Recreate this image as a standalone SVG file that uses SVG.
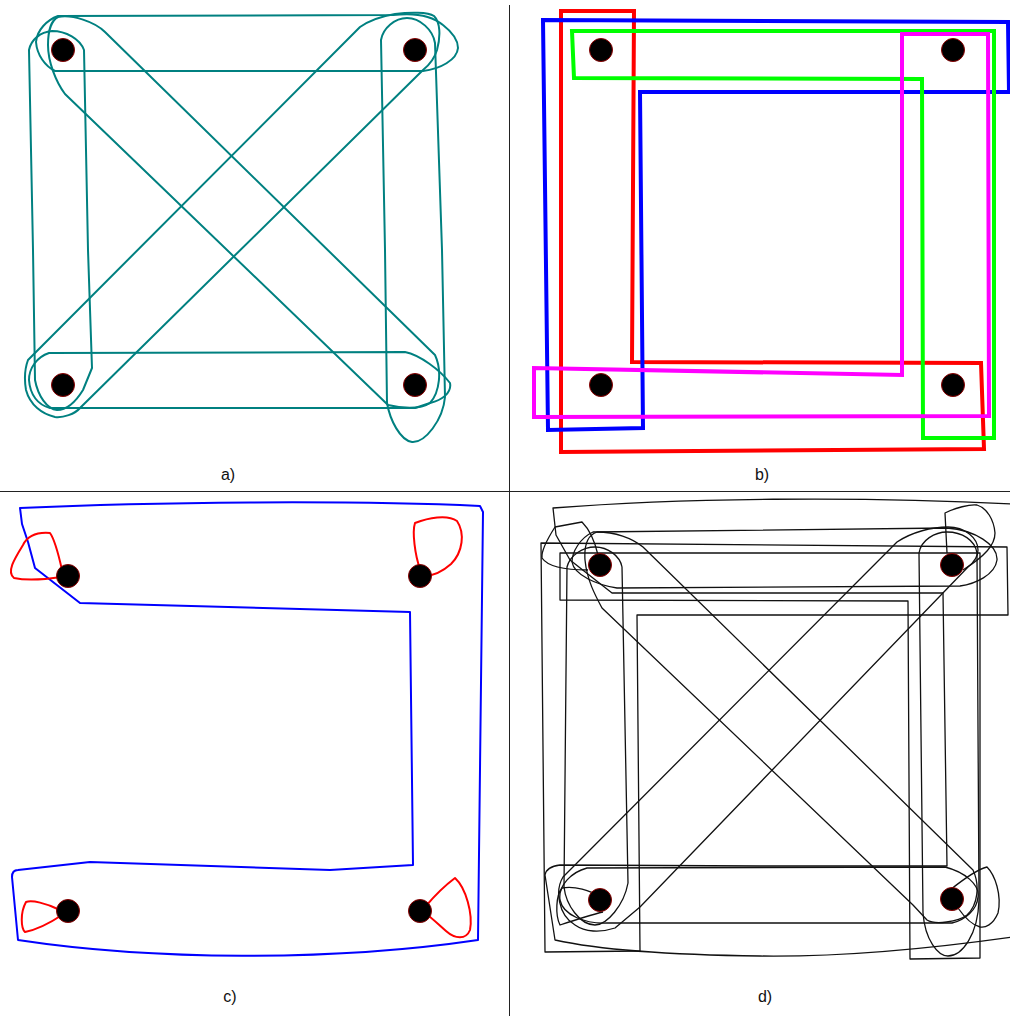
<svg xmlns="http://www.w3.org/2000/svg" width="1010" height="1016" viewBox="0 0 1010 1016">
<style>
.node{fill:#000;stroke:#8b0000;stroke-width:1}
.ea{fill:none;stroke:#008080;stroke-width:2;stroke-linejoin:round}
.eb{fill:none;stroke-width:4}
.ec{fill:none;stroke-width:2;stroke-linejoin:round}
.ed{fill:none;stroke:#111;stroke-width:1.3;stroke-linejoin:round}
.lbl{font-family:"Liberation Sans",Arial,sans-serif;font-size:16px;fill:#111;text-anchor:middle}
.div{stroke:#222;stroke-width:1}
</style>
<rect width="1010" height="1016" fill="#fff"/>
<g id="dividers">
<line class="div" x1="509.5" y1="5" x2="509.5" y2="1016"/>
<line class="div" x1="0" y1="491.5" x2="1010" y2="491.5"/>
</g>
<g id="connectors">
<!-- panel a -->
<path class="ea" d="M58,16 L393,15 C410,13 430,14 443,25 C452,32 458,40 458,48 C457,60 440,69 423,71 L55,71 C45,66 37,55 36,42 C37,30 47,20 58,16 Z"/>
<path class="ea" d="M29,50 C31,40 40,32 52,31 C66,31 80,39 84,50 L88,250 L92,368 L83,390 C75,403 66,410 57,410 C47,409 38,396 35,380 L33,250 Z"/>
<path class="ea" d="M381,40 C383,28 395,18 407,18 C420,18 433,30 435,43 L442,250 L445,397 C443,420 425,443 412,442 C400,440 390,420 387,403 L385,250 Z"/>
<path class="ea" d="M49,353 L405,352 C420,355 440,370 450,383 C452,393 442,400 430,403 L415,408 L50,408 C38,405 30,395 29,380 C29,368 37,357 49,353 Z"/>
<path class="ea" d="M105,32 L435,355 C442,370 440,392 430,403 C420,410 400,408 388,405 L65,94 C56,82 48,62 48,45 C48,30 52,20 58,17 C72,14 95,22 105,32 Z"/>
<path class="ea" d="M360,27 C370,20 383,16 395,14 C410,12 428,12 434,16 C440,22 441,35 437,50 C434,60 428,66 423,70 L80,408 C75,414 63,418 55,417 C42,414 30,405 26,390 C24,378 25,368 28,360 Z"/>
<!-- panel b -->
<path class="eb" stroke="#ff0000" d="M561,11 L634,11 L632,362 L981,363 L984,449 L561,452 Z"/>
<path class="eb" stroke="#0000ff" d="M543,20 L1008,22 L1009,92 L640,92 L643,428 L548,430 Z"/>
<path class="eb" stroke="#00ff00" d="M572,31 L994,31 L994,438 L923,438 L922,79 L574,78 Z"/>
<path class="eb" stroke="#ff00ff" d="M902,34 L988,34 L989,416 L534,417 L534,368 L902,375 Z"/>
<!-- panel c -->
<path class="ec" stroke="#0000ff" d="M20,508 C150,502 350,500 480,506 L483,512 L478,940 C330,962 150,960 18,940 L12,877 C12,872 14,870 18,870 L90,862 L330,870 L413,865 L410,612 L80,603 L35,568 L28,542 L22,524 Z"/>
<path class="ec" stroke="#ff0000" d="M62,570 C58,552 55,540 50,533 C38,532 28,535 23,545 C15,558 6,572 14,578 C28,581 48,579 62,577"/>
<path class="ec" stroke="#ff0000" d="M420,569 C415,555 412,532 415,523 C428,518 447,514 457,521 C465,533 463,552 451,564 C442,572 432,576 424,576"/>
<path class="ec" stroke="#ff0000" d="M60,910 C46,903 32,900 26,902 C20,913 21,928 25,932 C35,930 50,923 62,915"/>
<path class="ec" stroke="#ff0000" d="M426,906 C436,894 447,884 455,878 C466,888 473,914 470,930 C466,940 455,939 446,931 C439,925 432,918 425,913"/>
<!-- panel d -->
<path class="ed" d="M553,508 C680,498 860,496 1012,504 L1012,937 C920,950 840,957 760,956 C680,955 600,950 555,940 L545,875 C546,869 552,866 560,865 L760,866 L947,866 L943,593 L612,593 L570,560 L556,535 Z"/>
<path class="ed" d="M541,543 L1007,547 L1008,615 L637,615 L640,951 L545,952 Z"/>
<path class="ed" d="M560,553 L980,553 L980,958 L910,959 L908,601 L560,600 Z"/>
<path class="ed" d="M593,532 L947,528 C975,530 998,545 997,560 C995,575 975,584 960,586 L617,588 C597,585 574,575 572,562 C572,552 580,538 593,532 Z"/>
<path class="ed" d="M643,547 L973,870 C980,885 978,905 967,915 C958,922 935,925 927,920 L913,905 L602,608 C595,595 587,580 585,560 C584,545 588,535 597,532 C615,532 632,538 643,547 Z"/>
<path class="ed" d="M897,542 C912,532 932,527 948,527 C965,527 978,538 978,550 C978,558 973,563 968,567 L640,907 L615,928 C600,933 585,932 575,925 C558,915 555,890 563,877 Z"/>
<path class="ed" d="M919,553 C921,540 935,532 947,532 C962,532 975,540 977,553 L979,900 C978,935 962,956 948,956 C938,956 925,940 923,913 Z"/>
<path class="ed" d="M587,868 L945,867 C965,872 980,885 978,897 C977,910 965,920 952,923 L607,923 C585,924 563,915 560,900 C558,885 572,872 587,868 Z"/>
<path class="ed" d="M567,567 C570,555 583,547 595,547 C608,547 620,556 622,567 L628,883 C624,905 607,925 595,925 C580,925 566,905 564,887 Z"/>
<path class="ed" d="M598,555 C595,542 590,530 582,522 L555,527 C548,538 541,550 542,558 C548,567 565,570 588,570"/>
<path class="ed" d="M947,553 L945,513 C955,508 970,504 977,505 C987,508 994,520 995,533 C995,545 985,556 963,570"/>
<path class="ed" d="M600,897 C590,890 575,886 562,888 C556,895 555,915 560,925 C575,920 590,915 603,912"/>
<path class="ed" d="M950,890 C960,882 975,870 987,867 C995,875 1002,895 998,913 C993,925 985,928 980,927 C972,925 965,918 958,908"/>
</g>
<g id="nodes-a">
<circle id="a-tl" class="node" cx="63" cy="50" r="11.5"/>
<circle id="a-tr" class="node" cx="415" cy="50" r="11.5"/>
<circle id="a-bl" class="node" cx="63" cy="385" r="11.5"/>
<circle id="a-br" class="node" cx="415" cy="385" r="11.5"/>
</g>
<g id="nodes-b">
<circle id="b-tl" class="node" cx="601" cy="50" r="11.5"/>
<circle id="b-tr" class="node" cx="953" cy="50" r="11.5"/>
<circle id="b-bl" class="node" cx="601" cy="385" r="11.5"/>
<circle id="b-br" class="node" cx="953" cy="385" r="11.5"/>
</g>
<g id="nodes-c">
<circle id="c-tl" class="node" cx="68" cy="576" r="11.5"/>
<circle id="c-tr" class="node" cx="420" cy="576" r="11.5"/>
<circle id="c-bl" class="node" cx="68" cy="911" r="11.5"/>
<circle id="c-br" class="node" cx="420" cy="911" r="11.5"/>
</g>
<g id="nodes-d">
<circle id="d-tl" class="node" cx="600" cy="565" r="11.5"/>
<circle id="d-tr" class="node" cx="952" cy="565" r="11.5"/>
<circle id="d-bl" class="node" cx="600" cy="900" r="11.5"/>
<circle id="d-br" class="node" cx="952" cy="899" r="11.5"/>
</g>
<g id="labels">
<text class="lbl" x="228" y="480">a)</text>
<text class="lbl" x="762" y="480">b)</text>
<text class="lbl" x="230" y="1002">c)</text>
<text class="lbl" x="765" y="1002">d)</text>
</g>
</svg>
